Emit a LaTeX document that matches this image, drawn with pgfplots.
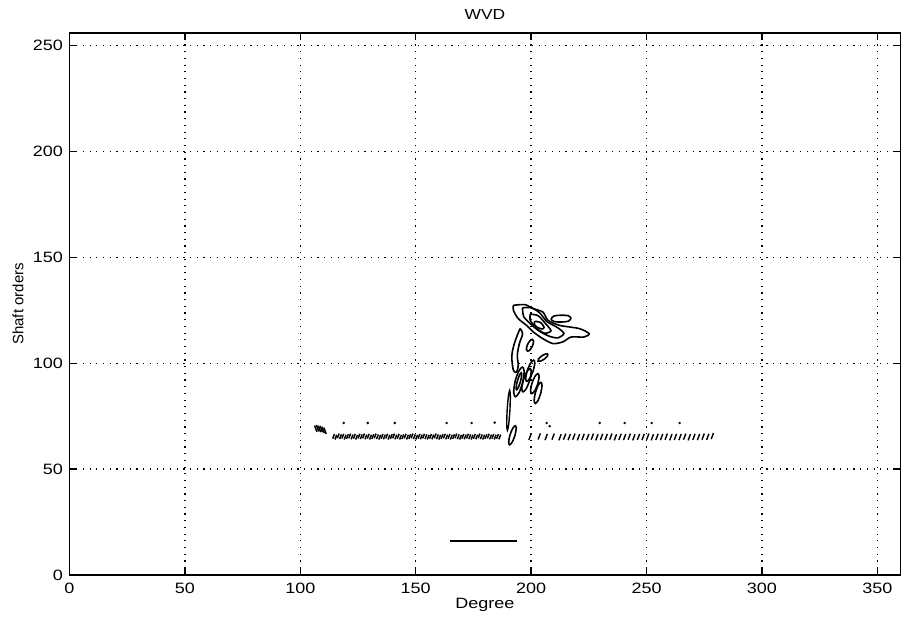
\documentclass[border=0pt]{standalone}
\usepackage{fontspec}
\setmainfont{Liberation Sans}[FakeStretch=1.2]
\newfontfamily\plainsans{Liberation Sans}
\usepackage{pgfplots}
\pgfplotsset{compat=1.18}

\begin{document}
\begin{tikzpicture}
\path[use as bounding box] (-69.5pt,-49pt) rectangle (833.5pt,575pt);
\begin{axis}[
  scale only axis, width=831pt, height=542pt,
  xmin=0, xmax=360, ymin=0, ymax=256,
  xtick={0,50,...,350}, ytick={0,50,...,250},
  grid=major,
  major grid style={black, line width=1.5pt, dash pattern=on 1.2pt off 5.5pt},
  tick align=inside, major tick length=7pt,
  every tick/.append style={black, line width=1.4pt},
  axis line style={line width=1.8pt},
  /pgf/number format/assume math mode=true,
  ticklabel style={font=\fontsize{15}{18}\selectfont},
  xticklabel style={anchor=base, yshift=-19pt},
  yticklabel style={anchor=east, xshift=-3pt},
  title={WVD},
  title style={at={(axis description cs:0.5,1)}, anchor=base, yshift=7pt, font=\fontsize{14.5}{17}\selectfont},
  xlabel={Degree},
  xlabel style={at={(axis description cs:0.5,0)}, anchor=base, yshift=-34pt, font=\fontsize{15}{18}\selectfont},
  ylabel={\plainsans Shaft orders},
  ylabel style={at={(axis description cs:-0.062,0.5)}, anchor=center, font=\fontsize{15}{18}\selectfont},
]

% --- contour cluster of the distribution ---
\addplot[black, line width=1.6pt, smooth, tension=0.45] coordinates {
  (192.3,127.4) (197.3,127.7) (200.9,125.8) (205.1,124.2) (207.3,120.3) (212.3,117.9)
  (220.8,116.4) (225.1,114.0) (222.9,112.4) (217.3,112.4) (213.7,110.1) (209.4,109.3)
  (205.1,111.6) (200.9,114.8) (198.0,117.9) (194.4,121.1) (192.3,125.0) (192.3,127.4)};
\addplot[black, line width=1.6pt, smooth, tension=0.45] coordinates {
  (196.2,126.2) (200.2,126.2) (203.9,123.6) (206.8,119.7) (211.8,116.6) (214.2,114.0)
  (211.5,112.0) (207.8,112.8) (203.5,115.2) (199.8,118.5) (196.8,122.0) (196.2,126.2)};
\addplot[black, line width=1.6pt, smooth, tension=0.45] coordinates {
  (199.6,123.2) (203.0,122.5) (206.0,119.0) (208.6,115.4) (205.8,114.2) (202.0,116.8)
  (199.6,120.3) (199.6,123.2)};
\addplot[black, line width=1.6pt, smooth, tension=0.55] coordinates {
  (201.6,119.8) (204.0,119.3) (205.6,117.0) (204.6,116.2) (202.4,117.2) (201.3,118.7) (201.6,119.8)};
\addplot[black, line width=1.6pt, smooth, tension=0.55] coordinates {
  (217.3,121.4) (216.0,122.5) (212.8,122.7) (209.8,122.3) (208.7,120.8) (210.0,119.7)
  (213.2,119.5) (216.2,119.9) (217.3,121.4)};
\addplot[black, line width=1.6pt, smooth, tension=0.55] coordinates {
  (195.2,116.4) (193.7,112.4) (192.3,107.7) (191.6,103.0) (192.3,96.7) (193.7,95.9)
  (194.4,99.1) (194.0,103.8) (194.9,109.3) (196.3,114.0) (195.2,116.4)};
\addplot[black, line width=1.6pt, smooth, tension=0.55] coordinates {
  (196.4,91.2) (196.96,96.15) (196.2,98.2) (194.56,96.15) (193.0,91.2) (192.44,86.25)
  (193.2,84.2) (194.84,86.25) (196.4,91.2)};
\addplot[black, line width=1.6pt, smooth, tension=0.55] coordinates {
  (195.4,91.5) (195.9,94.33) (195.7,95.5) (194.91,94.33) (194.0,91.5) (193.5,88.67)
  (193.7,87.5) (194.49,88.67) (195.4,91.5)};
\addplot[black, line width=1.6pt, smooth, tension=0.55] coordinates {
  (199.4,92.0) (200.05,95.89) (199.5,97.5) (198.07,95.89) (196.6,92.0) (195.95,88.11)
  (196.5,86.5) (197.93,88.11) (199.4,92.0)};
\addplot[black, line width=1.6pt, smooth, tension=0.55] coordinates {
  (200.9,96.5) (201.58,100.04) (201.1,101.5) (199.74,100.04) (198.3,96.5) (197.62,92.96)
  (198.1,91.5) (199.46,92.96) (200.9,96.5)};
\addplot[black, line width=1.6pt, smooth, tension=0.55] coordinates {
  (202.9,90.4) (203.44,93.72) (202.9,95.1) (201.6,93.72) (200.3,90.4) (199.76,87.08)
  (200.3,85.7) (201.6,87.08) (202.9,90.4)};
\addplot[black, line width=1.6pt, smooth, tension=0.55] coordinates {
  (204.2,86.0) (204.7,89.54) (204.2,91.0) (203.0,89.54) (201.8,86.0) (201.3,82.46)
  (201.8,81.0) (203.0,82.46) (204.2,86.0)};
\addplot[black, line width=1.6pt, smooth, tension=0.55] coordinates {
  (200.7,108.5) (201.06,110.48) (200.5,111.3) (199.36,110.48) (198.3,108.5) (197.94,106.52)
  (198.5,105.7) (199.64,106.52) (200.7,108.5)};
\addplot[black, line width=1.6pt, smooth, tension=0.55] coordinates {
  (207.2,104.4) (206.16,104.39) (204.5,103.4) (203.2,102.0) (203.0,101.0) (204.04,101.01)
  (205.7,102.0) (207.0,103.4) (207.2,104.4)};
\addplot[black, line width=1.4pt, smooth, tension=0.55] coordinates {
  (190.8,77.8) (190.98,84.45) (190.7,87.2) (190.13,84.45) (189.6,77.8) (189.42,71.15)
  (189.7,68.4) (190.27,71.15) (190.8,77.8)};
\addplot[black, line width=1.6pt, smooth, tension=0.55] coordinates {
  (193.0,66.0) (193.53,69.18) (193.1,70.5) (191.97,69.18) (190.8,66.0) (190.27,62.82)
  (190.7,61.5) (191.83,62.82) (193.0,66.0)};

% --- band of short strokes near 65 orders ---
\addplot[black, line width=1.5pt, quiver={u=0.8, v=2.2}] table[row sep=\\] {
x y\\
114 64.4\\ 115 64.0\\ 116 64.6\\ 117 64.2\\ 118 64.5\\ 119 64.0\\ 120 64.3\\ 121 64.6\\
122 64.1\\ 123 64.4\\ 124 64.0\\ 125 64.5\\ 126 64.2\\ 127 64.6\\ 128 64.1\\ 129 64.4\\
130 64.0\\ 131 64.3\\ 132 64.6\\ 133 64.2\\ 134 64.0\\ 135 64.4\\ 136 64.1\\ 137 64.5\\
138 64.0\\ 139 64.3\\ 140 64.6\\ 141 64.1\\ 142 64.4\\ 143 64.0\\ 144 64.2\\ 145 64.5\\
146 64.0\\ 147 64.3\\ 148 64.6\\ 149 64.2\\ 150 64.0\\ 151 64.4\\ 152 64.1\\ 153 64.5\\
154 64.2\\ 155 64.0\\ 156 64.4\\ 157 64.1\\ 158 64.6\\ 159 64.2\\ 160 64.0\\ 161 64.3\\
162 64.5\\ 163 64.1\\ 164 64.4\\ 165 64.0\\ 166 64.3\\ 167 64.6\\ 168 64.2\\ 169 64.0\\
170 64.4\\ 171 64.1\\ 172 64.5\\ 173 64.2\\ 174 64.0\\ 175 64.4\\ 176 64.1\\ 177 64.6\\
178 64.2\\ 179 64.0\\ 180 64.3\\ 181 64.5\\ 182 64.1\\ 183 64.4\\ 184 64.0\\ 185 64.3\\
186 64.1\\
};
\addplot[black, line width=1.4pt, quiver={u=1.0, v=2.9}] table[row sep=\\] {
x y\\
199 63.8\\ 203 64.0\\ 206 63.7\\ 209 63.9\\ 212 63.6\\ 214 63.9\\ 216 63.7\\ 218 63.9\\
220 63.6\\ 222 63.8\\ 224 63.7\\ 226 63.9\\ 228 63.6\\ 230 63.8\\ 232 63.7\\ 234 63.9\\
236 63.6\\ 238 63.8\\ 240 63.7\\ 242 63.9\\ 244 63.6\\ 246 63.8\\ 248 63.7\\ 250 63.9\\
252 63.6\\ 254 63.8\\ 256 63.7\\ 258 63.9\\ 260 63.6\\ 262 63.8\\ 264 63.7\\ 266 63.9\\
268 63.6\\ 270 63.8\\ 272 63.7\\ 274 63.9\\ 276 63.8\\ 278 64.2\\
};
% small blob left of the band
\addplot[black, line width=1.5pt, quiver={u=1.0, v=-3.0}] table[row sep=\\] {
x y\\
106.2 70.6\\ 107.0 70.8\\ 107.8 70.5\\ 108.6 70.4\\ 109.4 70.0\\ 110.2 69.6\\
};
% isolated dots above the band
\addplot[black, only marks, mark=*, mark size=1.0pt] coordinates {
  (118.8,71.8) (129.2,71.8) (140.9,71.8) (163.4,71.8) (174.2,71.8) (184.2,72.0)
  (206.7,71.8) (208.0,70.3) (229.7,71.8) (240.5,71.8) (252.2,71.8) (264.3,71.8)};

% --- short horizontal segment at low order ---
\addplot[black, line width=1.6pt] coordinates {(164.7,16) (193.7,16)};

\end{axis}
\end{tikzpicture}
\end{document}
